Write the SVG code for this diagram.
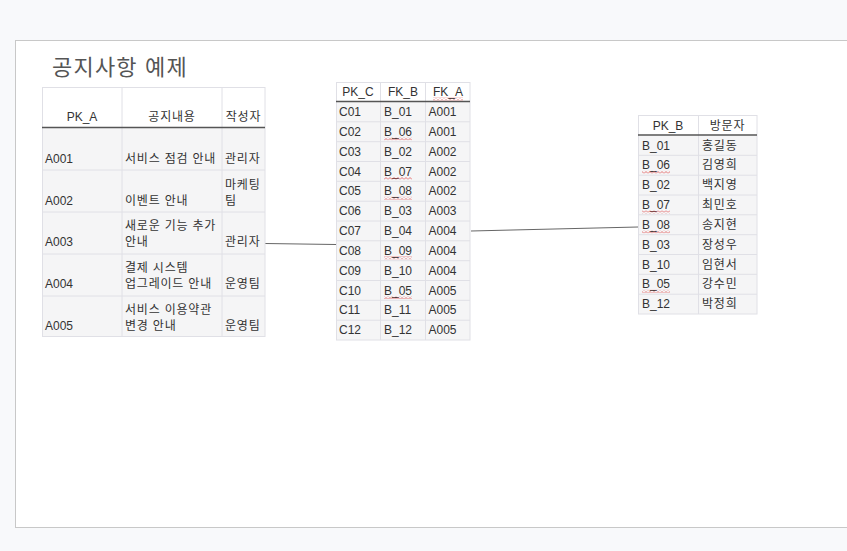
<svg xmlns="http://www.w3.org/2000/svg" width="847" height="551" viewBox="0 0 847 551">
<style>
text{font-family:"Liberation Sans","Noto Sans CJK KR",Arial,sans-serif;font-size:12px;fill:#333}
.k{letter-spacing:0.8px}
.title{font-size:22px;fill:#555;letter-spacing:1.2px}
.c{text-anchor:middle}
.hd{fill:#fff}
.row{fill:#f5f5f6}
.grid{stroke:#e0e0e6;stroke-width:1;fill:none}
.hl{stroke:#555;stroke-width:1.5}
.conn{stroke:#666;stroke-width:1;fill:none}
.sq{fill:url(#wave)}
</style>
<defs>
<pattern id="wave" x="0" y="0" width="4" height="3" patternUnits="userSpaceOnUse">
<path d="M0,2.5 L2,0.5 L4,2.5" stroke="#e05050" stroke-width="0.8" fill="none"/>
</pattern>
</defs>
<rect x="0" y="0" width="847" height="551" fill="#f8f9fb"/>
<rect x="15.5" y="40.5" width="840" height="487" fill="#fff" stroke="#c8c8c8" stroke-width="1"/>
<text class="title" x="52" y="75">공지사항 예제</text>

<g id="connectors">
<line class="conn" x1="265" y1="243.5" x2="336" y2="244.5"/>
<line class="conn" x1="471" y1="231" x2="638" y2="227"/>
</g>

<g id="tableA">
<rect class="hd" x="42" y="87" width="223" height="41"/>
<rect class="row" x="42" y="128" width="223" height="209"/>
<g class="grid">
<rect x="42.5" y="87.5" width="222.5" height="249"/>
<line x1="122" y1="87" x2="122" y2="337"/>
<line x1="222" y1="87" x2="222" y2="337"/>
<line x1="42" y1="170" x2="265" y2="170"/>
<line x1="42" y1="212" x2="265" y2="212"/>
<line x1="42" y1="254" x2="265" y2="254"/>
<line x1="42" y1="296" x2="265" y2="296"/>
</g>
<line class="hl" x1="42" y1="127.5" x2="265" y2="127.5"/>
<text class="c" x="82" y="121">PK_A</text>
<text class="c k" x="172" y="121">공지내용</text>
<text class="c k" x="243.5" y="121">작성자</text>
<text x="45" y="163">A001</text><text class="k" x="125" y="163">서비스 점검 안내</text><text class="k" x="225" y="163">관리자</text>
<text x="45" y="205">A002</text><text class="k" x="125" y="205">이벤트 안내</text><text class="k" x="225" y="188.5">마케팅</text><text class="k" x="225" y="205">팀</text>
<text x="45" y="246">A003</text><text class="k" x="125" y="229.5">새로운 기능 추가</text><text class="k" x="125" y="246">안내</text><text class="k" x="225" y="246">관리자</text>
<text x="45" y="288">A004</text><text class="k" x="125" y="271.5">결제 시스템</text><text class="k" x="125" y="288">업그레이드 안내</text><text class="k" x="225" y="288">운영팀</text>
<text x="45" y="330">A005</text><text class="k" x="125" y="313.5">서비스 이용약관</text><text class="k" x="125" y="330">변경 안내</text><text class="k" x="225" y="330">운영팀</text>
</g>

<g id="tableC">
<rect class="hd" x="336" y="82" width="134" height="20"/>
<rect class="row" x="336" y="102" width="134" height="238"/>
<g class="grid">
<rect x="336.5" y="82.5" width="133.5" height="257.5"/>
<line x1="380.5" y1="82" x2="380.5" y2="340"/>
<line x1="425.5" y1="82" x2="425.5" y2="340"/>
<line x1="336" y1="121.8" x2="470" y2="121.8"/>
<line x1="336" y1="141.7" x2="470" y2="141.7"/>
<line x1="336" y1="161.5" x2="470" y2="161.5"/>
<line x1="336" y1="181.3" x2="470" y2="181.3"/>
<line x1="336" y1="201.2" x2="470" y2="201.2"/>
<line x1="336" y1="221" x2="470" y2="221"/>
<line x1="336" y1="240.8" x2="470" y2="240.8"/>
<line x1="336" y1="260.7" x2="470" y2="260.7"/>
<line x1="336" y1="280.5" x2="470" y2="280.5"/>
<line x1="336" y1="300.3" x2="470" y2="300.3"/>
<line x1="336" y1="320.2" x2="470" y2="320.2"/>
</g>
<line class="hl" x1="336" y1="101.5" x2="470" y2="101.5"/>
<text class="c" x="358" y="96">PK_C</text>
<text class="c" x="403" y="96">FK_B</text>
<text class="c" x="448" y="96">FK_A</text>
<rect class="sq" x="433" y="97.5" width="30" height="3"/>
<g>
<text x="339" y="116">C01</text><text x="384" y="116">B_01</text><text x="428.5" y="116">A001</text>
<text x="339" y="135.8">C02</text><text x="384" y="135.8">B_06</text><text x="428.5" y="135.8">A001</text>
<text x="339" y="155.7">C03</text><text x="384" y="155.7">B_02</text><text x="428.5" y="155.7">A002</text>
<text x="339" y="175.5">C04</text><text x="384" y="175.5">B_07</text><text x="428.5" y="175.5">A002</text>
<text x="339" y="195.3">C05</text><text x="384" y="195.3">B_08</text><text x="428.5" y="195.3">A002</text>
<text x="339" y="215.2">C06</text><text x="384" y="215.2">B_03</text><text x="428.5" y="215.2">A003</text>
<text x="339" y="235">C07</text><text x="384" y="235">B_04</text><text x="428.5" y="235">A004</text>
<text x="339" y="254.8">C08</text><text x="384" y="254.8">B_09</text><text x="428.5" y="254.8">A004</text>
<text x="339" y="274.7">C09</text><text x="384" y="274.7">B_10</text><text x="428.5" y="274.7">A004</text>
<text x="339" y="294.5">C10</text><text x="384" y="294.5">B_05</text><text x="428.5" y="294.5">A005</text>
<text x="339" y="314.3">C11</text><text x="384" y="314.3">B_11</text><text x="428.5" y="314.3">A005</text>
<text x="339" y="334.2">C12</text><text x="384" y="334.2">B_12</text><text x="428.5" y="334.2">A005</text>
</g>
<rect class="sq" x="384" y="137.3" width="28" height="3"/>
<rect class="sq" x="384" y="177" width="28" height="3"/>
<rect class="sq" x="384" y="196.8" width="28" height="3"/>
<rect class="sq" x="384" y="256.3" width="28" height="3"/>
<rect class="sq" x="384" y="296" width="28" height="3"/>
</g>

<g id="tableB">
<rect class="hd" x="638" y="115" width="119" height="20.5"/>
<rect class="row" x="638" y="135.5" width="119" height="178.5"/>
<g class="grid">
<rect x="638.5" y="115.5" width="118.5" height="198.5"/>
<line x1="698.5" y1="115" x2="698.5" y2="314"/>
<line x1="638" y1="155.3" x2="757" y2="155.3"/>
<line x1="638" y1="175.2" x2="757" y2="175.2"/>
<line x1="638" y1="195" x2="757" y2="195"/>
<line x1="638" y1="214.8" x2="757" y2="214.8"/>
<line x1="638" y1="234.7" x2="757" y2="234.7"/>
<line x1="638" y1="254.5" x2="757" y2="254.5"/>
<line x1="638" y1="274.3" x2="757" y2="274.3"/>
<line x1="638" y1="294.2" x2="757" y2="294.2"/>
</g>
<line class="hl" x1="638" y1="135" x2="757" y2="135"/>
<text class="c" x="668" y="130">PK_B</text>
<text class="c k" x="727.5" y="130">방문자</text>
<text x="642" y="149.5">B_01</text><text class="k" x="702" y="149.5">홍길동</text>
<text x="642" y="169.3">B_06</text><text class="k" x="702" y="169.3">김영희</text>
<text x="642" y="189.2">B_02</text><text class="k" x="702" y="189.2">백지영</text>
<text x="642" y="209">B_07</text><text class="k" x="702" y="209">최민호</text>
<text x="642" y="228.8">B_08</text><text class="k" x="702" y="228.8">송지현</text>
<text x="642" y="248.7">B_03</text><text class="k" x="702" y="248.7">장성우</text>
<text x="642" y="268.5">B_10</text><text class="k" x="702" y="268.5">임현서</text>
<text x="642" y="288.3">B_05</text><text class="k" x="702" y="288.3">강수민</text>
<text x="642" y="308.2">B_12</text><text class="k" x="702" y="308.2">박정희</text>
<rect class="sq" x="642" y="170.8" width="28" height="3"/>
<rect class="sq" x="642" y="210.5" width="28" height="3"/>
<rect class="sq" x="642" y="230.3" width="28" height="3"/>
<rect class="sq" x="642" y="289.8" width="28" height="3"/>
</g>
</svg>
